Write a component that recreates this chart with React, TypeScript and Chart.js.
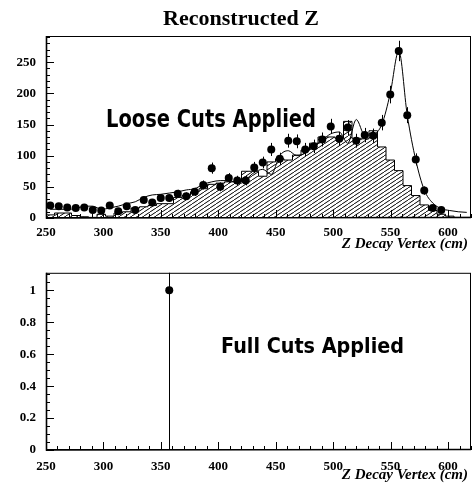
import React, { useEffect, useRef } from 'react';
import { Chart, registerables } from 'chart.js';

Chart.register(...registerables);

// ---- binning / axes ----
const X_MIN = 250;
const X_MAX = 620;
const BIN_WIDTH = 7.4;
const xTickLabels = [250, 300, 350, 400, 450, 500, 550, 600];
const looseYMax = 292;
const fullYMax = 1.11;

// ---- texts ----
const titleText = 'Reconstructed Z';
const xAxisTitle = 'Z Decay Vertex (cm)';
const looseLabel = 'Loose Cuts Applied';
const fullLabel = 'Full Cuts Applied';

// ---- data (50 bins, 250 -> 620 cm) ----
const looseCounts = [
  20, 19, 17, 16, 17, 13, 12, 20, 11, 19,
  13, 29, 25, 32, 32, 39, 35, 42, 53, 80,
  50, 64, 60, 60, 81, 89, 110, 95, 124, 123,
  110, 115, 126, 147, 127, 145, 124, 133, 132, 153,
  198, 268, 165, 94, 44, 16, 13, 0, 0, 0,
];
const looseMC = [
  5, 5, 8, 8, 4, 2, 1, 6, 3, 8,
  10, 16, 18, 20, 23, 23, 33, 36, 42, 47,
  54, 56, 58, 58, 75, 75, 67, 90, 95, 93,
  101, 109, 120, 130, 130, 128, 155, 128, 127, 140,
  114, 93, 76, 52, 36, 21, 12, 6, 3, 1,
];
const looseFit = [
  14, 14, 14, 15, 19, 19, 14, 16, 19, 23,
  26, 33, 37, 38, 40, 42, 45, 47, 54, 58,
  60, 60, 57, 62, 73, 78, 70, 100, 108, 100,
  104, 115, 125, 135, 138, 120, 158, 133, 134, 150,
  200, 268, 165, 93, 45, 24, 15, 12, 10, 9,
];
const fullCounts = [
  0, 0, 0, 0, 0, 0, 0, 0, 0, 0,
  0, 0, 0, 0, 1, 0, 0, 0, 0, 0,
  0, 0, 0, 0, 0, 0, 0, 0, 0, 0,
  0, 0, 0, 0, 0, 0, 0, 0, 0, 0,
  0, 0, 0, 0, 0, 0, 0, 0, 0, 0,
];

const binCenter = (i: number) => X_MIN + BIN_WIDTH * (i + 0.5);
const binEdge = (i: number) => X_MIN + BIN_WIDTH * i;

const SERIF = "'Liberation Serif', 'Times New Roman', serif";
const tickFont = { family: SERIF, size: 13, weight: 'bold' as const };

function makeHatch(): CanvasPattern | string {
  const w = 6, h = 4;
  const c = document.createElement('canvas');
  c.width = w;
  c.height = h;
  const g = c.getContext('2d');
  if (!g) return 'rgba(0,0,0,0.2)';
  g.strokeStyle = '#000';
  g.lineWidth = 1;
  for (const x0 of [-w, 0, w]) {
    g.beginPath();
    g.moveTo(x0, h);
    g.lineTo(x0 + w, 0);
    g.stroke();
  }
  return g.createPattern(c, 'repeat') || 'rgba(0,0,0,0.2)';
}

type DecoOpts = {
  counts: number[];
  yMinorStep: number;
  yMajorEvery: number;
  yMax: number;
  label: string;
  labelFontSize: number;
  labelLeft: number;
  labelWidth: number;
  labelBaseline: number;
  axisTitleBaseline: number;
  title?: string;
};

function decoPlugin(o: DecoOpts) {
  return {
    id: 'rootDeco',
    afterDatasetsDraw(chart: any) {
      const { ctx, chartArea: a } = chart;
      const xs = chart.scales.x;
      const ys = chart.scales.y;
      ctx.save();
      // error bars (sqrt N)
      ctx.beginPath();
      ctx.rect(a.left, a.top, a.right - a.left, a.bottom - a.top);
      ctx.clip();
      ctx.strokeStyle = '#000';
      ctx.lineWidth = 1;
      o.counts.forEach((v, i) => {
        if (v <= 0) return;
        const e = Math.sqrt(v);
        const px = Math.round(xs.getPixelForValue(binCenter(i))) + 0.5;
        ctx.beginPath();
        ctx.moveTo(px, ys.getPixelForValue(v - e));
        ctx.lineTo(px, ys.getPixelForValue(v + e));
        ctx.stroke();
      });
      ctx.restore();
    },
    afterDraw(chart: any) {
      const { ctx, chartArea: a } = chart;
      const xs = chart.scales.x;
      const ys = chart.scales.y;
      ctx.save();
      ctx.strokeStyle = '#000';
      ctx.lineWidth = 1;
      // frame
      ctx.strokeRect(a.left + 0.5, a.top + 0.5, a.right - a.left - 1, a.bottom - a.top - 1);
      ctx.lineWidth = 1.6;
      ctx.beginPath();
      ctx.moveTo(a.left + 0.5, a.top);
      ctx.lineTo(a.left + 0.5, a.bottom);
      ctx.lineTo(a.right, a.bottom - 0.5);
      ctx.stroke();
      ctx.lineWidth = 1;
      // x ticks (inside)
      ctx.beginPath();
      for (let k = 0; X_MIN + k * 10 <= X_MAX; k++) {
        const v = X_MIN + k * 10;
        const px = Math.round(xs.getPixelForValue(v)) + 0.5;
        const len = v % 50 === 0 ? 8 : 4;
        ctx.moveTo(px, a.bottom);
        ctx.lineTo(px, a.bottom - len);
      }
      // y ticks (inside)
      for (let k = 0; k * o.yMinorStep <= o.yMax + 1e-9; k++) {
        const v = k * o.yMinorStep;
        const py = Math.round(ys.getPixelForValue(v)) + 0.5;
        const len = k % o.yMajorEvery === 0 ? 8 : 4;
        ctx.moveTo(a.left, py);
        ctx.lineTo(a.left + len, py);
      }
      ctx.stroke();

      ctx.fillStyle = '#000';
      // x axis title
      ctx.font = `italic bold 15px ${SERIF}`;
      ctx.textAlign = 'right';
      ctx.textBaseline = 'alphabetic';
      ctx.fillText(xAxisTitle, a.right - 3, o.axisTitleBaseline);

      // plot title
      if (o.title) {
        ctx.font = `bold 22px ${SERIF}`;
        ctx.textAlign = 'center';
        ctx.fillText(o.title, 241, 25);
      }

      // in-plot label
      ctx.font = `bold ${o.labelFontSize}px 'DejaVu Sans', sans-serif`;
      ctx.textAlign = 'left';
      const w = ctx.measureText(o.label).width;
      const sx = o.labelWidth / w;
      ctx.translate(o.labelLeft, o.labelBaseline);
      ctx.scale(sx, 1);
      ctx.fillText(o.label, 0, 0);
      ctx.restore();
    },
  };
}

const fmtTick = (v: any) => String(Number(Number(v).toFixed(3)));

function baseScales(yMax: number, yStep: number, xHeight: number, xPad: number) {
  return {
    x: {
      type: 'linear' as const,
      min: X_MIN,
      max: X_MAX,
      afterFit: (s: any) => { s.height = xHeight; },
      grid: { display: false, drawTicks: false },
      border: { display: false },
      ticks: {
        stepSize: 50,
        includeBounds: false,
        autoSkip: false,
        maxRotation: 0,
        padding: xPad,
        color: '#000',
        font: tickFont,
        callback: (v: any) => (xTickLabels.includes(Number(v)) ? String(v) : ''),
      },
    },
    y: {
      type: 'linear' as const,
      min: 0,
      max: yMax,
      afterFit: (s: any) => { s.width = 46; },
      grid: { display: false, drawTicks: false },
      border: { display: false },
      ticks: {
        stepSize: yStep,
        includeBounds: false,
        autoSkip: false,
        padding: 10,
        color: '#000',
        font: tickFont,
        callback: fmtTick,
      },
    },
  };
}

export default function App() {
  const topRef = useRef<HTMLCanvasElement>(null);
  const botRef = useRef<HTMLCanvasElement>(null);

  useEffect(() => {
    if (!topRef.current || !botRef.current) return;
    const hatch = makeHatch();

    const top = new Chart(topRef.current, {
      type: 'scatter',
      data: {
        datasets: [
          {
            type: 'scatter',
            data: looseCounts
              .map((v, i) => ({ x: binCenter(i), y: v }))
              .filter((p) => p.y > 0),
            pointRadius: 4,
            pointBackgroundColor: '#000',
            pointBorderColor: '#000',
            pointBorderWidth: 0,
          },
          {
            type: 'line',
            data: looseFit.map((v, i) => ({ x: binCenter(i), y: v })),
            borderColor: '#000',
            borderWidth: 1,
            pointRadius: 0,
            cubicInterpolationMode: 'monotone',
            fill: false,
          },
          {
            type: 'line',
            data: [
              ...looseMC.map((v, i) => ({ x: binEdge(i), y: v })),
              { x: X_MAX, y: looseMC[looseMC.length - 1] },
            ],
            stepped: 'after',
            fill: 'origin',
            backgroundColor: hatch as any,
            borderColor: '#000',
            borderWidth: 1,
            pointRadius: 0,
          },
        ] as any,
      },
      options: {
        responsive: false,
        animation: false,
        events: [],
        layout: { padding: { top: 36, left: 0, right: 1, bottom: 0 } },
        plugins: { legend: { display: false }, tooltip: { enabled: false } },
        scales: baseScales(looseYMax, 50, 37, 7) as any,
      },
      plugins: [
        decoPlugin({
          counts: looseCounts,
          yMinorStep: 10,
          yMajorEvery: 5,
          yMax: looseYMax,
          label: looseLabel,
          labelFontSize: 24,
          labelLeft: 106,
          labelWidth: 210,
          labelBaseline: 126.5,
          axisTitleBaseline: 248,
          title: titleText,
        }),
      ],
    });

    const bot = new Chart(botRef.current, {
      type: 'scatter',
      data: {
        datasets: [
          {
            type: 'scatter',
            data: fullCounts
              .map((v, i) => ({ x: binCenter(i), y: v }))
              .filter((p) => p.y > 0),
            pointRadius: 4,
            pointBackgroundColor: '#000',
            pointBorderColor: '#000',
            pointBorderWidth: 0,
          },
        ] as any,
      },
      options: {
        responsive: false,
        animation: false,
        events: [],
        layout: { padding: { top: 14, left: 0, right: 1, bottom: 0 } },
        plugins: { legend: { display: false }, tooltip: { enabled: false } },
        scales: baseScales(fullYMax, 0.2, 33, 9) as any,
      },
      plugins: [
        decoPlugin({
          counts: fullCounts,
          yMinorStep: 0.05,
          yMajorEvery: 4,
          yMax: fullYMax,
          label: fullLabel,
          labelFontSize: 22,
          labelLeft: 221,
          labelWidth: 183,
          labelBaseline: 98,
          axisTitleBaseline: 224,
        }),
      ],
    });

    return () => {
      top.destroy();
      bot.destroy();
    };
  }, []);

  return (
    <div style={{ position: 'absolute', left: 0, top: 0, width: 475, height: 483, background: '#fff' }}>
      <canvas ref={topRef} width={475} height={255} style={{ position: 'absolute', left: 0, top: 0 }} />
      <canvas ref={botRef} width={475} height={228} style={{ position: 'absolute', left: 0, top: 255 }} />
    </div>
  );
}
